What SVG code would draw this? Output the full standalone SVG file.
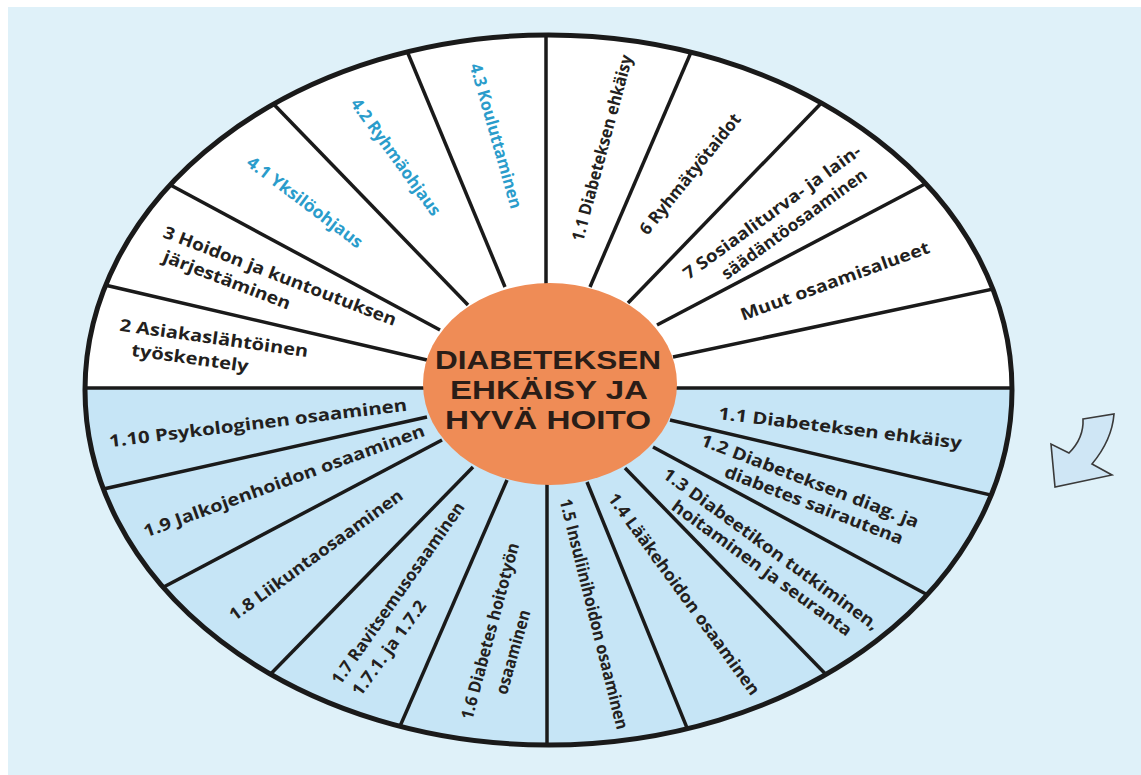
<svg xmlns="http://www.w3.org/2000/svg" width="1141" height="775" viewBox="0 0 1141 775">
  <style>
    .lbl { font-family: "Open Sans", "Liberation Sans", sans-serif; font-weight: 700; font-size: 17px; fill: #231f20; text-anchor: middle; }
    .blu { fill: #2a9ccb; }
    .ttl { font-family: "Liberation Sans", Arial, sans-serif; font-weight: 700; font-size: 26px; fill: #2a1d17; text-anchor: middle; }
    .spoke { stroke: #1a1a1a; stroke-width: 3.5; fill: none; }
  </style>
  <defs>
    <clipPath id="wheel">
      <ellipse cx="548.5" cy="390" rx="463.5" ry="355"/>
    </clipPath>
    <clipPath id="lowerHalf">
      <rect x="0" y="388" width="1141" height="400"/>
    </clipPath>
  </defs>

  <!-- page background -->
  <rect x="0" y="0" width="1141" height="775" fill="#ffffff"/>
  <rect x="8" y="7" width="1133" height="768" fill="#dff1f9"/>

  <!-- wheel: white upper half, blue lower half -->
  <ellipse cx="548.5" cy="390" rx="463.5" ry="355" fill="#ffffff"/>
  <ellipse cx="548.5" cy="390" rx="463.5" ry="355" fill="#c6e5f6" clip-path="url(#lowerHalf)"/>

  <!-- spokes -->
  <g id="connectors" clip-path="url(#wheel)">
    <line class="spoke" x1="80" y1="388" x2="1020" y2="388"/>
    <line class="spoke" x1="427" y1="360" x2="79" y2="279"/>
    <line class="spoke" x1="440" y1="330" x2="150" y2="174"/>
    <line class="spoke" x1="468" y1="305" x2="258" y2="88"/>
    <line class="spoke" x1="505" y1="287" x2="402" y2="39"/>
    <line class="spoke" x1="546" y1="290" x2="546" y2="20"/>
    <line class="spoke" x1="590" y1="287" x2="698" y2="36"/>
    <line class="spoke" x1="628" y1="303" x2="833" y2="91"/>
    <line class="spoke" x1="657" y1="325" x2="944" y2="174"/>
    <line class="spoke" x1="673" y1="357" x2="1026" y2="282"/>
    <line class="spoke" x1="670" y1="420" x2="1016" y2="501"/>
    <line class="spoke" x1="653" y1="447" x2="950" y2="607"/>
    <line class="spoke" x1="625" y1="468" x2="843" y2="692"/>
    <line class="spoke" x1="587" y1="482" x2="696" y2="750"/>
    <line class="spoke" x1="547" y1="480" x2="547" y2="765"/>
    <line class="spoke" x1="507" y1="480" x2="391" y2="747"/>
    <line class="spoke" x1="473" y1="467" x2="256" y2="689"/>
    <line class="spoke" x1="442" y1="440" x2="141" y2="599"/>
    <line class="spoke" x1="427" y1="417" x2="81" y2="494"/>
  </g>

  <!-- wheel rim -->
  <ellipse cx="548.5" cy="390" rx="463.5" ry="355" fill="none" stroke="#1a1a1a" stroke-width="5"/>

  <!-- hub -->
  <g id="hub">
    <ellipse cx="550" cy="384" rx="127" ry="101" fill="#ef8c56"/>
    <text class="ttl" x="548" y="369" textLength="226" lengthAdjust="spacingAndGlyphs">DIABETEKSEN</text>
    <text class="ttl" x="549" y="399" textLength="198" lengthAdjust="spacingAndGlyphs">EHKÄISY JA</text>
    <text class="ttl" x="548" y="429" textLength="206" lengthAdjust="spacingAndGlyphs">HYVÄ HOITO</text>
  </g>

  <!-- upper half sectors -->
  <g id="s-asiakas">
    <text class="lbl" transform="translate(214 338) rotate(8)" dy="0.35em" textLength="190" lengthAdjust="spacingAndGlyphs">2 Asiakaslähtöinen</text>
    <text class="lbl" transform="translate(190 358) rotate(8)" dy="0.35em" textLength="118" lengthAdjust="spacingAndGlyphs">työskentely</text>
  </g>
  <g id="s-hoidon">
    <text class="lbl" transform="translate(280 276) rotate(21)" dy="0.35em" textLength="248" lengthAdjust="spacingAndGlyphs">3 Hoidon ja kuntoutuksen</text>
    <text class="lbl" transform="translate(227 280) rotate(21)" dy="0.35em" textLength="135" lengthAdjust="spacingAndGlyphs">järjestäminen</text>
  </g>
  <g id="s-yksilo">
    <text class="lbl blu" transform="translate(305 202) rotate(37)" dy="0.35em" textLength="140" lengthAdjust="spacingAndGlyphs">4.1 Yksilöohjaus</text>
  </g>
  <g id="s-ryhma">
    <text class="lbl blu" transform="translate(396 157) rotate(54)" dy="0.35em" textLength="140" lengthAdjust="spacingAndGlyphs">4.2 Ryhmäohjaus</text>
  </g>
  <g id="s-koulutus">
    <text class="lbl blu" transform="translate(496 136) rotate(74)" dy="0.35em" textLength="150" lengthAdjust="spacingAndGlyphs">4.3 Kouluttaminen</text>
  </g>
  <g id="s-ehkaisy-top">
    <text class="lbl" transform="translate(602 148) rotate(-75)" dy="0.35em" textLength="192" lengthAdjust="spacingAndGlyphs">1.1 Diabeteksen ehkäisy</text>
  </g>
  <g id="s-ryhmatyo">
    <text class="lbl" transform="translate(690 174) rotate(-51)" dy="0.35em" textLength="150" lengthAdjust="spacingAndGlyphs">6 Ryhmätyötaidot</text>
  </g>
  <g id="s-sosiaali">
    <text class="lbl" transform="translate(772 212) rotate(-36)" dy="0.35em" textLength="215" lengthAdjust="spacingAndGlyphs">7 Sosiaaliturva- ja lain-</text>
    <text class="lbl" transform="translate(794 224) rotate(-36)" dy="0.35em" textLength="175" lengthAdjust="spacingAndGlyphs">säädäntöosaaminen</text>
  </g>
  <g id="s-muut">
    <text class="lbl" transform="translate(835 281) rotate(-20)" dy="0.35em" textLength="200" lengthAdjust="spacingAndGlyphs">Muut osaamisalueet</text>
  </g>

  <!-- lower half sectors -->
  <g id="s-1-1">
    <text class="lbl" transform="translate(840 428) rotate(7)" dy="0.35em" textLength="245" lengthAdjust="spacingAndGlyphs">1.1 Diabeteksen ehkäisy</text>
  </g>
  <g id="s-1-2">
    <text class="lbl" transform="translate(810 481) rotate(21)" dy="0.35em" textLength="232" lengthAdjust="spacingAndGlyphs">1.2 Diabeteksen diag. ja</text>
    <text class="lbl" transform="translate(814 505) rotate(21)" dy="0.35em" textLength="190" lengthAdjust="spacingAndGlyphs">diabetes sairautena</text>
  </g>
  <g id="s-1-3">
    <text class="lbl" transform="translate(771 549) rotate(36)" dy="0.35em" textLength="262" lengthAdjust="spacingAndGlyphs">1.3 Diabeetikon tutkiminen,</text>
    <text class="lbl" transform="translate(762 568) rotate(36)" dy="0.35em" textLength="218" lengthAdjust="spacingAndGlyphs">hoitaminen ja seuranta</text>
  </g>
  <g id="s-1-4">
    <text class="lbl" transform="translate(684 594) rotate(54)" dy="0.35em" textLength="245" lengthAdjust="spacingAndGlyphs">1.4  Lääkehoidon osaaminen</text>
  </g>
  <g id="s-1-5">
    <text class="lbl" transform="translate(594 614) rotate(76)" dy="0.35em" textLength="237" lengthAdjust="spacingAndGlyphs">1.5 Insuliinihoidon osaaminen</text>
  </g>
  <g id="s-1-6">
    <text class="lbl" transform="translate(490 631) rotate(-75)" dy="0.35em" textLength="182" lengthAdjust="spacingAndGlyphs">1.6 Diabetes hoitotyön</text>
    <text class="lbl" transform="translate(513 652) rotate(-74)" dy="0.35em" textLength="87" lengthAdjust="spacingAndGlyphs">osaaminen</text>
  </g>
  <g id="s-1-7">
    <text class="lbl" transform="translate(398 593) rotate(-55)" dy="0.35em" textLength="218" lengthAdjust="spacingAndGlyphs">1.7 Ravitsemusosaaminen</text>
    <text class="lbl" transform="translate(389 648) rotate(-54)" dy="0.35em" textLength="113" lengthAdjust="spacingAndGlyphs">1.7.1. ja 1.7.2</text>
  </g>
  <g id="s-1-8">
    <text class="lbl" transform="translate(316 555) rotate(-36)" dy="0.35em" textLength="210" lengthAdjust="spacingAndGlyphs">1.8 Liikuntaosaaminen</text>
  </g>
  <g id="s-1-9">
    <text class="lbl" transform="translate(284 481) rotate(-20)" dy="0.35em" textLength="298" lengthAdjust="spacingAndGlyphs">1.9 Jalkojenhoidon osaaminen</text>
  </g>
  <g id="s-1-10">
    <text class="lbl" transform="translate(258 423) rotate(-7)" dy="0.35em" textLength="300" lengthAdjust="spacingAndGlyphs">1.10 Psykologinen osaaminen</text>
  </g>

  <!-- turning arrow beside the wheel -->
  <g id="arrow">
    <path d="M1083 419 L1114 414 Q1112 440 1092 464 L1112 475 L1055 487 L1051 444 L1069 453 Q1084 438 1083 419 Z" fill="#cfe6f5" stroke="#3a3a3a" stroke-width="1.6" stroke-linejoin="miter"/>
  </g>
</svg>
